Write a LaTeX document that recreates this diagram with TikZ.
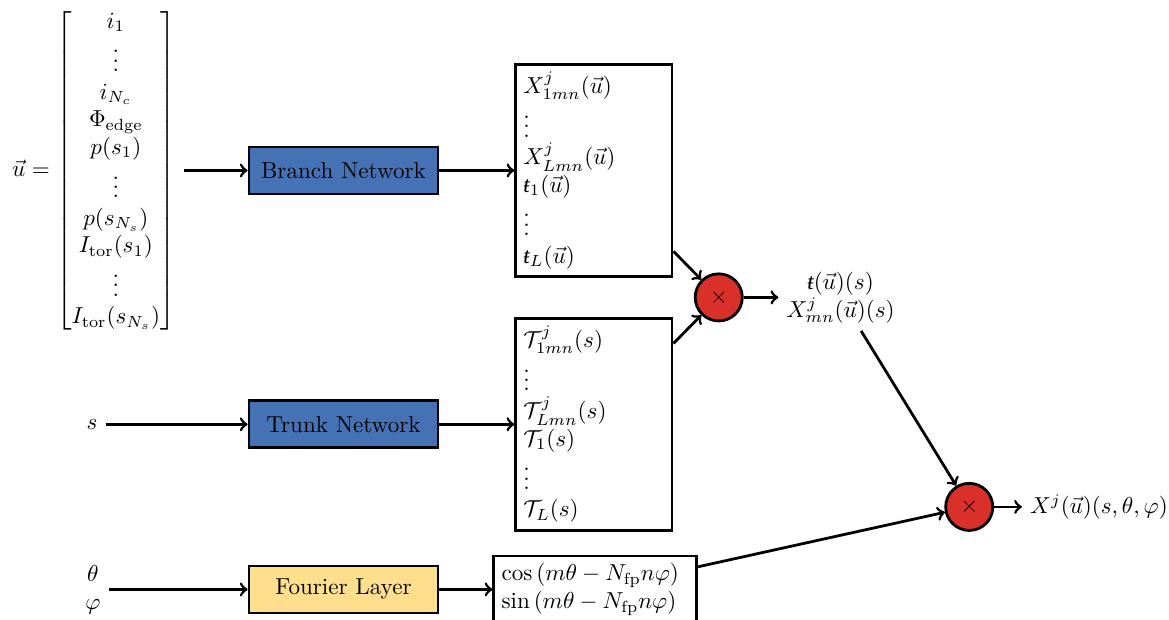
\documentclass[tikz,border=0pt]{standalone}
\usepackage{amsmath}
\usepackage{fontspec}
\usepackage{tikz}
\usetikzlibrary{shapes,arrows,positioning,calc}
\newfontfamily\tbarfont{Liberation Serif}
\definecolor{netblue}{RGB}{68, 114, 180}
\definecolor{fourieryellow}{RGB}{255, 223, 142}
\definecolor{multred}{RGB}{217, 48, 42}
\tikzstyle{net} = [rectangle, draw=black, very thick, fill=netblue, text=black, minimum width=81.8pt, minimum height=20.3pt]
\tikzstyle{layer} = [rectangle, draw=black, very thick, fill=fourieryellow, text=black, minimum width=81.8pt, minimum height=20.3pt]
\tikzstyle{coef} = [rectangle, draw=black, very thick, fill=white, align=left, text width=61pt]
\tikzstyle{mult} = [circle, draw=black, very thick, fill=multred, minimum size=20.4pt, inner sep=0pt]
\tikzstyle{tedge} = [draw, very thick, ->]
\newcommand{\tbar}{\text{\tbarfont\itshape ŧ}}

\begin{document}
\begin{tikzpicture}[auto]

\useasboundingbox (-148.7pt,73.8pt) rectangle (357.4pt,-194.2pt);

% networks =============================
\node[net] (branch) at (0,0) {Branch Network};
\node[net, below=88.4pt of branch] (trunk) {Trunk Network};
\node[layer, below=50pt of trunk] (fourier) {Fourier Layer};

% inputs
\node[left=27.7pt of branch] (uvec) {$\vec{u} = \begin{bmatrix} i_1 \\ \vdots \\ i_{N_c} \\ \Phi_{\mathrm{edge}} \\ p(s_1) \\ \vdots \\ p(s_{N_s}) \\ I_{\mathrm{tor}}(s_1) \\ \vdots \\ I_{\mathrm{tor}}(s_{N_s}) \end{bmatrix}$};
\node[left=61.5pt of trunk] (sin) {$s$};
\node[left=60.2pt of fourier, align=center] (angles) {$\theta$ \\ $\varphi$};

% outputs of the networks
\node[coef, right=32.5pt of branch] (bout) {$X^j_{1mn}(\vec{u})$ \\ $\vdots$ \\ $X^j_{Lmn}(\vec{u})$ \\ $\tbar_1(\vec{u})$ \\ $\vdots$ \\ $\tbar_L(\vec{u})$};
\node[coef, right=32.5pt of trunk] (tout) {$\mathcal{T}^j_{1mn}(s)$ \\ $\vdots$ \\ $\mathcal{T}^j_{Lmn}(s)$ \\ $\mathcal{T}_1(s)$ \\ $\vdots$ \\ $\mathcal{T}_L(s)$};
\node[rectangle, draw=black, very thick, align=left, text width=81pt, right=23pt of fourier] (fout) {$\cos\left(m\theta - N_{\mathrm{fp}} n\varphi\right)$ \\ $\sin\left(m\theta - N_{\mathrm{fp}} n\varphi\right)$};

% products
\coordinate (mid1) at ($(bout.east)!0.5!(tout.east)$);
\coordinate (mid2) at ($(tout.east)!0.5!(fout.east)$);
\node[mult, right=8.8pt of mid1] (circ1) {$\times$};
\node[mult, right=112pt of mid2] (circ2) {$\times$};
\node[right=15pt of circ1, align=center] (lab1) {$\tbar(\vec{u})(s)$ \\ $X^j_{mn}(\vec{u})(s)$};
\node[right=12pt of circ2] (lab2) {$X^j(\vec{u})(s,\theta,\varphi)$};

%edges
\path[tedge] (uvec) -- (branch);
\path[tedge] (branch) -- (bout);
\path[tedge] (sin) -- (trunk);
\path[tedge] (trunk) -- (tout);
\path[tedge] (angles) -- (fourier);
\path[tedge] (fourier) -- (fout);

\path[tedge] (bout) -- (circ1);
\path[tedge] (tout) -- (circ1);
\path[tedge] (circ1) -- (lab1);
\path[tedge] (lab1) -- (circ2);
\path[tedge] (fout) -- (circ2);
\path[tedge] (circ2) -- (lab2);

\end{tikzpicture}
\end{document}
